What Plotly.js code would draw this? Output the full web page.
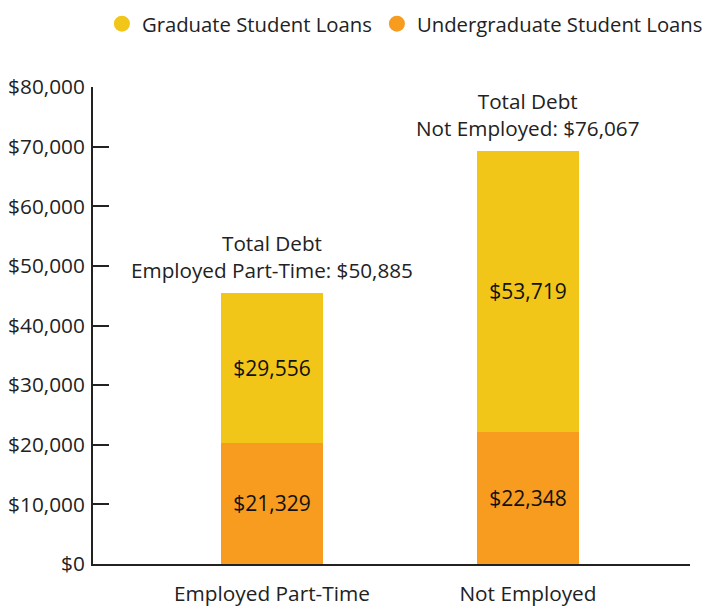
<!DOCTYPE html>
<html>
<head>
<meta charset="utf-8">
<script src="https://cdn.plot.ly/plotly-3.0.1.min.js"></script>
<style>html,body{margin:0;padding:0;background:#fff;}#chart{width:704px;height:607px;}</style>
</head>
<body>
<div id="chart"></div>
<script>
// Data
const categories = ["Employed Part-Time", "Not Employed"];
const seriesNames = ["Graduate Student Loans", "Undergraduate Student Loans"];
// drawn bar heights as pictured
const undergradValues = [20300, 22200];
const gradValues = [25200, 47100];
const barTops = [45500, 69300];
// printed labels
const undergradLabels = ["$21,329", "$22,348"];
const gradLabels = ["$29,556", "$53,719"];
const totalLabels = ["Total Debt<br>Employed Part-Time: $50,885", "Total Debt<br>Not Employed: $76,067"];
const yTickVals = [0, 10000, 20000, 30000, 40000, 50000, 60000, 70000, 80000];
const yTickText = ["$0", "$10,000", "$20,000", "$30,000", "$40,000", "$50,000", "$60,000", "$70,000", "$80,000"];

const gradColor = "#F2C618";
const undergradColor = "#F89C1F";
const FONT = "'Open Sans', sans-serif";

const traces = [
  {
    type: "bar", x: categories, y: undergradValues, name: seriesNames[1],
    marker: {color: undergradColor}, width: 0.4,
    text: undergradLabels, textposition: "inside", insidetextanchor: "middle",
    textfont: {size: 21, color: "#111", family: FONT}, constraintext: "none",
    showlegend: false, hoverinfo: "skip"
  },
  {
    type: "bar", x: categories, y: gradValues, name: seriesNames[0],
    marker: {color: gradColor}, width: 0.4,
    text: gradLabels, textposition: "inside", insidetextanchor: "middle",
    textfont: {size: 21, color: "#111", family: FONT}, constraintext: "none",
    showlegend: false, hoverinfo: "skip"
  },
  {
    type: "scatter", mode: "markers", x: [null], y: [null], name: seriesNames[0],
    marker: {color: gradColor, size: 21, symbol: "circle"}, showlegend: true
  },
  {
    type: "scatter", mode: "markers", x: [null], y: [null], name: seriesNames[1],
    marker: {color: undergradColor, size: 21, symbol: "circle"}, showlegend: true
  }
];

const annotations = categories.map((c, i) => ({
  x: c, y: barTops[i], xref: "x", yref: "y",
  text: totalLabels[i], showarrow: false,
  xanchor: "center", yanchor: "bottom", yshift: 7,
  align: "center",
  font: {size: 20.7, color: "#222", family: FONT}
}));

const layout = {
  width: 704, height: 607,
  margin: {l: 93, r: 14, t: 87, b: 43, autoexpand: false},
  paper_bgcolor: "#fff", plot_bgcolor: "#fff",
  barmode: "stack",
  font: {family: FONT, color: "#222"},
  showlegend: true,
  legend: {
    orientation: "h", x: 1.030, xanchor: "right", y: 1.174, yanchor: "top",
    xref: "paper", yref: "paper",
    font: {size: 20.3, color: "#222", family: FONT},
    itemsizing: "trace", tracegroupgap: 0, itemwidth: 30,
    traceorder: "normal"
  },
  xaxis: {
    type: "category", range: [-0.699, 1.633],
    showline: true, linecolor: "#222", linewidth: 2,
    ticks: "", showgrid: false, zeroline: false,
    tickfont: {size: 20.8, color: "#222", family: FONT},
    ticklabelstandoff: 10, fixedrange: true
  },
  yaxis: {
    range: [0, 80000],
    tickmode: "array", tickvals: yTickVals, ticktext: yTickText,
    showline: true, linecolor: "#222", linewidth: 2,
    ticks: "inside", ticklen: 16, tickwidth: 2, tickcolor: "#222",
    showgrid: false, zeroline: false,
    tickfont: {size: 20.8, color: "#222", family: FONT},
    ticklabelstandoff: 2, fixedrange: true
  },
  annotations: annotations
};

Plotly.newPlot("chart", traces, layout, {displayModeBar: false, staticPlot: true});
</script>
</body>
</html>
